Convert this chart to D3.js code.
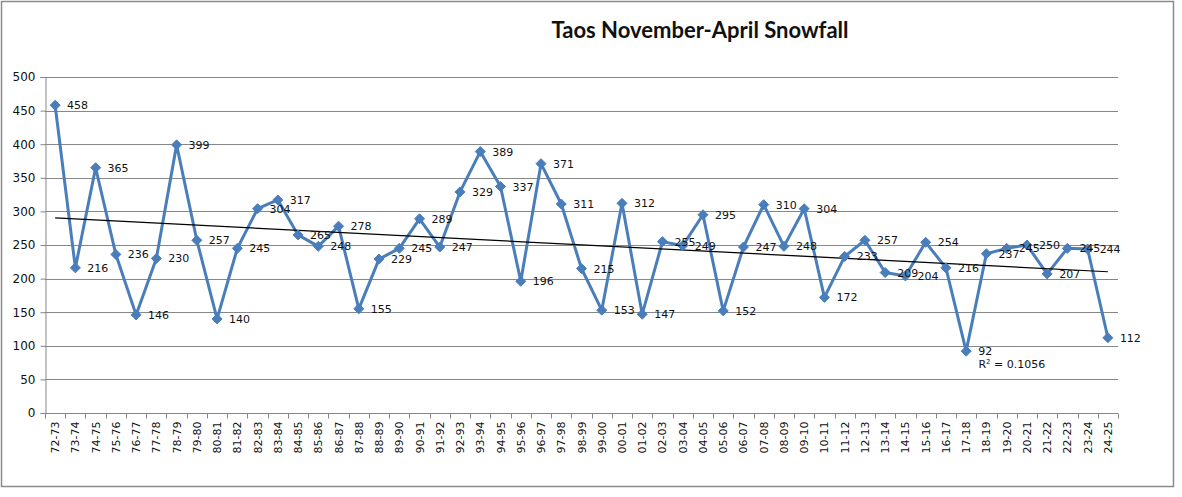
<!DOCTYPE html>
<html><head><meta charset="utf-8">
<script src="https://cdn.jsdelivr.net/npm/d3@7"></script>
<style>body{margin:0;background:#fff}svg{display:block}</style>
</head><body>
<svg id="c" width="1182" height="497"></svg>
<script>
const seasons = ["72-73","73-74","74-75","75-76","76-77","77-78","78-79","79-80","80-81","81-82","82-83","83-84","84-85","85-86","86-87","87-88","88-89","89-90","90-91","91-92","92-93","93-94","94-95","95-96","96-97","97-98","98-99","99-00","00-01","01-02","02-03","03-04","04-05","05-06","06-07","07-08","08-09","09-10","10-11","11-12","12-13","13-14","14-15","15-16","16-17","17-18","18-19","19-20","20-21","21-22","22-23","23-24","24-25"];
const snowfall = [458,216,365,236,146,230,399,257,140,245,304,317,265,248,278,155,229,245,289,247,329,389,337,196,371,311,215,153,312,147,255,249,295,152,247,310,248,304,172,233,257,209,204,254,216,92,237,245,250,207,245,244,112];
const yTicks = [0,50,100,150,200,250,300,350,400,450,500];
const title = "Taos November-April Snowfall";
const r2Text = "0.1056";

const svg = d3.select("#c");
const L = 45, R = 1118, T = 77, B = 413;
const x = d3.scaleBand().domain(seasons).range([L, R]).padding(0);
const cx = d => x(d) + x.bandwidth()/2;
const y = d3.scaleLinear().domain([0,500]).range([B, T]);

svg.append("rect").attr("x",1.5).attr("y",1.5).attr("width",1172).attr("height",485)
  .attr("fill","#fff").attr("stroke","#8a8a8a").attr("stroke-width",1.5);

svg.append("text").attr("x",700).attr("y",38).attr("text-anchor","middle")
  .attr("font-family","Lato, 'Open Sans', sans-serif").attr("font-weight","bold")
  .attr("font-size",22).attr("fill","#111").text(title);

// gridlines
svg.append("g").selectAll("line").data(yTicks.filter(v=>v>0)).join("line")
  .attr("x1",L).attr("x2",R).attr("y1",d=>Math.round(y(d))+0.5).attr("y2",d=>Math.round(y(d))+0.5)
  .attr("stroke","#878787").attr("stroke-width",1);

// y axis
const yAxis = svg.append("g").attr("transform",`translate(${L+0.5},0)`)
  .call(d3.axisLeft(y).tickValues(yTicks).tickSize(5).tickPadding(5).tickFormat(d3.format("d")));
yAxis.select(".domain").attr("stroke","#878787");
yAxis.selectAll(".tick line").attr("stroke","#878787");
yAxis.selectAll("text").attr("font-family","'DejaVu Sans', sans-serif").attr("font-size",12).attr("fill","#111");

// x axis
const xg = svg.append("g").attr("transform",`translate(0,${B+0.5})`);
xg.append("line").attr("x1",L).attr("x2",R).attr("stroke","#878787");
xg.selectAll(".tk").data(seasons.concat(["__end"])).join("line").attr("class","tk")
  .attr("x1",(d,i)=>Math.round(i<seasons.length? x(d) : R)+0.5)
  .attr("x2",(d,i)=>Math.round(i<seasons.length? x(d) : R)+0.5)
  .attr("y1",0).attr("y2",5).attr("stroke","#878787");
xg.selectAll("text").data(seasons).join("text")
  .attr("transform",d=>`translate(${cx(d)+4},8) rotate(-90)`)
  .attr("text-anchor","end")
  .attr("font-family","'DejaVu Sans', sans-serif").attr("font-size",11).attr("fill","#111")
  .text(d=>d);

// trend line (least squares)
const n = snowfall.length;
const xs = d3.range(n);
const mx = d3.mean(xs), my = d3.mean(snowfall);
let sxy=0, sxx=0;
xs.forEach((i)=>{ sxy += (i-mx)*(snowfall[i]-my); sxx += (i-mx)**2; });
const slope = sxy/sxx, icpt = my - slope*mx;

// series line
const line = d3.line().x((d,i)=>cx(seasons[i])).y(d=>y(d));
svg.append("path").datum(snowfall).attr("d",line).attr("fill","none")
  .attr("stroke","#4a7ebb").attr("stroke-width",3).attr("stroke-linejoin","round");

svg.append("line").attr("x1",cx(seasons[0])).attr("x2",cx(seasons[n-1]))
  .attr("y1",y(icpt)).attr("y2",y(icpt+slope*(n-1)))
  .attr("stroke","#000").attr("stroke-width",1.2);

// markers
svg.append("g").selectAll("path").data(snowfall).join("path")
  .attr("d","M0,-5L5,0L0,5L-5,0Z")
  .attr("transform",(d,i)=>`translate(${cx(seasons[i])},${y(d)})`)
  .attr("fill","#4a7ebb").attr("stroke","#4a7ebb").attr("stroke-width",1);

// data labels
svg.append("g").selectAll("text").data(snowfall).join("text")
  .attr("x",(d,i)=>cx(seasons[i])+12).attr("y",d=>y(d)+4)
  .attr("font-family","'DejaVu Sans', sans-serif").attr("font-size",11).attr("fill","#111")
  .text(d=>d);

// R² label
const rt = svg.append("text").attr("x",cx(seasons[46])-8).attr("y",y(snowfall[45])+17)
  .attr("font-family","'DejaVu Sans', sans-serif").attr("font-size",11).attr("fill","#111");
rt.append("tspan").text("R");
rt.append("tspan").attr("dy",-4).attr("font-size",7).text("2");
rt.append("tspan").attr("dy",4).text(" = " + r2Text);
</script>
</body></html>
